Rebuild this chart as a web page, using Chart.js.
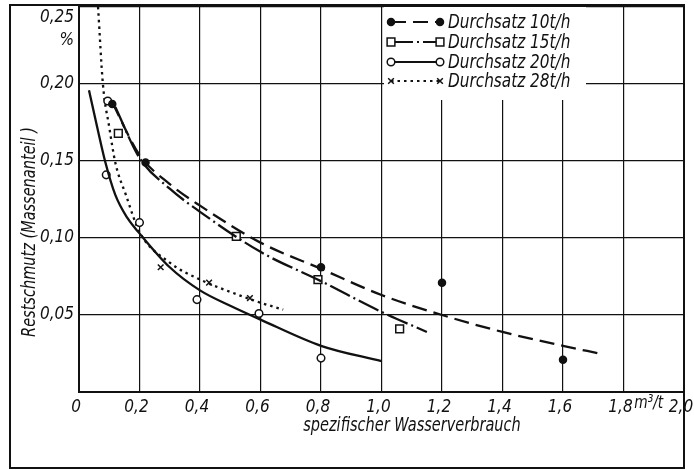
<!DOCTYPE html>
<html>
<head>
<meta charset="utf-8">
<script src="https://cdn.jsdelivr.net/npm/chart.js@4.4.0/dist/chart.umd.min.js"></script>
<style>
  html, body { margin: 0; padding: 0; background: #fff; }
  canvas { display: block; }
</style>
</head>
<body>
<canvas id="chart" width="694" height="470"></canvas>
<script>
const FONT = "'Liberation Sans Narrow', 'DejaVu Sans Condensed', 'Liberation Sans', sans-serif";
const INK = '#111';

const seriesNames = ['Durchsatz 10t/h', 'Durchsatz 15t/h', 'Durchsatz 20t/h', 'Durchsatz 28t/h'];

// measured points (x: m3/t, y: %)
const points10 = [{x: 0.11, y: 0.187}, {x: 0.22, y: 0.149}, {x: 0.8, y: 0.081}, {x: 1.2, y: 0.071}, {x: 1.6, y: 0.021}];
const points15 = [{x: 0.13, y: 0.168}, {x: 0.52, y: 0.101}, {x: 0.79, y: 0.073}, {x: 1.06, y: 0.041}];
const points20 = [{x: 0.095, y: 0.189}, {x: 0.09, y: 0.141}, {x: 0.2, y: 0.11}, {x: 0.39, y: 0.06}, {x: 0.595, y: 0.051}, {x: 0.8, y: 0.022}];
const points28 = [{x: 0.27, y: 0.081}, {x: 0.43, y: 0.071}, {x: 0.565, y: 0.061}];

// fitted curves
const curve10 = [{x: 0.11, y: 0.188}, {x: 0.2, y: 0.154}, {x: 0.3, y: 0.135}, {x: 0.4, y: 0.121}, {x: 0.6, y: 0.097},
  {x: 0.8, y: 0.080}, {x: 1.0, y: 0.063}, {x: 1.2, y: 0.050}, {x: 1.4, y: 0.039}, {x: 1.6, y: 0.030}, {x: 1.72, y: 0.025}];
const curve15 = [{x: 0.12, y: 0.185}, {x: 0.2, y: 0.152}, {x: 0.3, y: 0.132}, {x: 0.4, y: 0.117}, {x: 0.6, y: 0.091},
  {x: 0.8, y: 0.072}, {x: 1.0, y: 0.052}, {x: 1.15, y: 0.039}];
const curve20 = [{x: 0.033, y: 0.196}, {x: 0.06, y: 0.172}, {x: 0.086, y: 0.15}, {x: 0.12, y: 0.128}, {x: 0.16, y: 0.113},
  {x: 0.2, y: 0.103}, {x: 0.3, y: 0.081}, {x: 0.4, y: 0.066}, {x: 0.5, y: 0.056}, {x: 0.6, y: 0.047}, {x: 0.8, y: 0.030}, {x: 1.0, y: 0.020}];
const curve28 = [{x: 0.063, y: 0.25}, {x: 0.079, y: 0.2}, {x: 0.1, y: 0.172}, {x: 0.12, y: 0.149}, {x: 0.155, y: 0.128},
  {x: 0.2, y: 0.104}, {x: 0.3, y: 0.084}, {x: 0.4, y: 0.073}, {x: 0.5, y: 0.065}, {x: 0.6, y: 0.058}, {x: 0.675, y: 0.0535}];

const xTickLabels = ['0', '0,2', '0,4', '0,6', '0,8', '1,0', '1,2', '1,4', '1,6', '1,8', '2,0'];
const yTickLabels = ['', '0,05', '0,10', '0,15', '0,20', '0,25'];
const xUnit = 'm³/t';
const yUnit = '%';
const xTitle = 'spezifischer Wasserverbrauch';
const yTitle = 'Restschmutz (Massenanteil )';

const points = [points10, points15, points20, points28];
const curves = [curve10, curve15, curve20, curve28];

const styles = [
  {dash: [15, 7], pointStyle: 'circle', fill: INK, radius: 3.5},
  {dash: [22, 4, 2, 4], pointStyle: 'rect', fill: '#fff', radius: 5.5},
  {dash: [], pointStyle: 'circle', fill: '#fff', radius: 3.8},
  {dash: [2.5, 4], pointStyle: 'crossRot', fill: '#fff', radius: 4}
];

const datasets = [];
curves.forEach((c, i) => {
  datasets.push({
    label: seriesNames[i],
    data: c,
    showLine: true,
    borderColor: INK,
    borderWidth: 2.3,
    borderDash: styles[i].dash,
    borderCapStyle: 'butt',
    cubicInterpolationMode: 'monotone',
    pointRadius: 0,
    pointHoverRadius: 0
  });
  datasets.push({
    label: seriesNames[i] + ' Messwerte',
    data: points[i],
    showLine: false,
    pointStyle: styles[i].pointStyle,
    pointRadius: styles[i].radius,
    pointBackgroundColor: styles[i].fill,
    pointBorderColor: INK,
    pointBorderWidth: 1.5
  });
});

const tickFont = {family: FONT, size: 17, style: 'italic', lineHeight: 1.3};

// narrow italic text, like the drafting lettering of the original
function narrowText(ctx, text, x, y, size) {
  ctx.save();
  ctx.translate(x, y);
  ctx.scale(0.85, 1);
  ctx.font = 'italic ' + size + 'px ' + FONT;
  ctx.fillText(text, 0, 0);
  ctx.restore();
}

const extras = {
  id: 'extras',
  beforeDatasetsDraw(chart) {
    // legend box blanks out the grid behind it
    const ctx = chart.ctx;
    ctx.save();
    ctx.fillStyle = '#fff';
    ctx.fillRect(384, 7, 202, 93);
    ctx.restore();
  },
  afterDraw(chart) {
    const ctx = chart.ctx;
    const xs = chart.scales.x;
    ctx.save();
    ctx.fillStyle = INK;
    ctx.strokeStyle = INK;

    // legend
    const rows = [22, 42, 62, 81];
    ctx.textBaseline = 'middle';
    ctx.textAlign = 'left';
    rows.forEach((y, i) => {
      const s = styles[i];
      ctx.lineWidth = 2.2;
      ctx.setLineDash(s.dash);
      ctx.beginPath();
      ctx.moveTo(391, y);
      ctx.lineTo(440, y);
      ctx.stroke();
      ctx.setLineDash([]);
      ctx.lineWidth = 1.5;
      ctx.fillStyle = s.fill;
      [391, 440].forEach(px => {
        Chart.helpers.drawPoint(ctx, {pointStyle: s.pointStyle, radius: s.radius, rotation: 0, borderWidth: 1.5}, px, y);
      });
      ctx.fillStyle = INK;
      narrowText(ctx, seriesNames[i], 448, y + 1, 20);
    });

    // unit next to the last x tick
    ctx.textAlign = 'center';
    narrowText(ctx, xUnit, xs.getPixelForValue(1.9) - 5, 403, 18);

    // axis titles
    narrowText(ctx, xTitle, 412, 426, 19);
    ctx.translate(30, 232);
    ctx.rotate(-Math.PI / 2);
    narrowText(ctx, yTitle, 0, 0, 19);
    ctx.restore();

    // outer frame
    ctx.save();
    ctx.strokeStyle = INK;
    ctx.lineWidth = 2;
    ctx.strokeRect(10, 5, 674, 463);
    ctx.restore();
  }
};

new Chart(document.getElementById('chart'), {
  type: 'scatter',
  data: {datasets},
  options: {
    responsive: false,
    animation: false,
    devicePixelRatio: 1,
    layout: {padding: {left: 0, right: 10, top: 5, bottom: 0}},
    plugins: {
      legend: {display: false},
      tooltip: {enabled: false}
    },
    scales: {
      x: {
        type: 'linear',
        min: 0,
        max: 2,
        grid: {color: INK, lineWidth: 1.2, drawTicks: false},
        border: {display: true, color: INK, width: 2},
        ticks: {
          stepSize: 0.2,
          autoSkip: false,
          maxRotation: 0,
          padding: 5,
          labelOffset: -3,
          color: INK,
          font: tickFont,
          callback: (v, i) => xTickLabels[i]
        },
        afterFit(scale) {
          scale.height = 78;
          scale.paddingLeft = 0;
          scale.paddingRight = 0;
        }
      },
      y: {
        type: 'linear',
        min: 0,
        max: 0.25,
        grid: {color: INK, lineWidth: 1.2, drawTicks: false},
        border: {display: true, color: INK, width: 2},
        ticks: {
          stepSize: 0.05,
          autoSkip: false,
          padding: 5,
          color: INK,
          font: tickFont,
          callback: (v, i, all) => i === all.length - 1 ? ['', '', yTickLabels[i], yUnit] : yTickLabels[i]
        },
        afterFit(scale) {
          scale.width = 79;
          scale.paddingTop = 0;
          scale.paddingBottom = 0;
        }
      }
    }
  },
  plugins: [extras]
});
</script>
</body>
</html>
